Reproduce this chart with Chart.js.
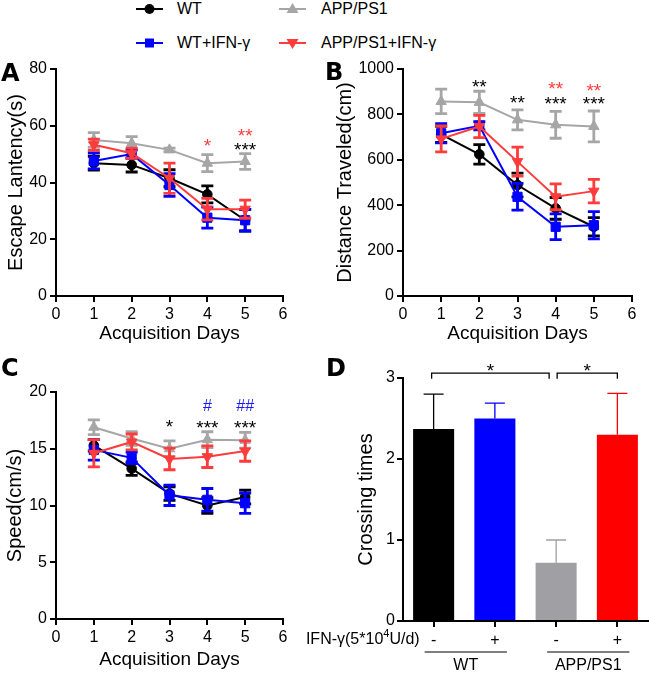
<!DOCTYPE html>
<html><head><meta charset="utf-8">
<script src="https://cdn.jsdelivr.net/npm/chart.js@4.4.1/dist/chart.umd.min.js"></script>
<style>
html,body{margin:0;padding:0;background:#fff;}
body{width:649px;height:673px;position:relative;overflow:hidden;font-family:"Liberation Sans",Arial,sans-serif;}
canvas{position:absolute;}
.lg{position:absolute;height:16px;font-size:16px;line-height:16px;color:#000;white-space:nowrap;}
.lg svg{position:absolute;left:0;top:0;}
.lg span{position:absolute;top:0;}
.letter{position:absolute;font-family:"DejaVu Sans",sans-serif;font-weight:bold;font-size:24px;line-height:24px;color:#000;}
</style></head>
<body>
<div class="lg" style="left:136px;top:1px"><svg width="27" height="16"><line x1="0" y1="8" x2="27" y2="8" stroke="#000" stroke-width="2"/><circle cx="13.5" cy="8" r="5" fill="#000"/></svg><span style="left:41px">WT</span></div>
<div class="lg" style="left:279px;top:1px"><svg width="27" height="16"><line x1="0" y1="8" x2="27" y2="8" stroke="#a6a6a6" stroke-width="2"/><polygon points="13.5,2 19.5,12 7.5,12" fill="#a6a6a6"/></svg><span style="left:42px">APP/PS1</span></div>
<div class="lg" style="left:136px;top:35px"><svg width="27" height="16"><line x1="0" y1="8" x2="27" y2="8" stroke="#0000ff" stroke-width="2"/><rect x="9" y="3.5" width="9" height="9" fill="#0000ff"/></svg><span style="left:41px">WT+IFN-γ</span></div>
<div class="lg" style="left:279px;top:35px"><svg width="27" height="16"><line x1="0" y1="8" x2="27" y2="8" stroke="#ff3b3b" stroke-width="2"/><polygon points="7.5,4 19.5,4 13.5,14" fill="#ff3b3b"/></svg><span style="left:42px">APP/PS1+IFN-γ</span></div>

<canvas id="cA" width="320" height="300" style="left:0;top:55px"></canvas>
<canvas id="cB" width="329" height="300" style="left:320px;top:55px"></canvas>
<canvas id="cC" width="320" height="303" style="left:0;top:370px"></canvas>
<canvas id="cD" width="379" height="333" style="left:270px;top:340px"></canvas>

<div class="letter" style="left:1px;top:61px">A</div>
<div class="letter" style="left:325px;top:60px">B</div>
<div class="letter" style="left:1px;top:356px">C</div>
<div class="letter" style="left:326px;top:356px">D</div>

<script>
// ---------- data ----------
const days = [1, 2, 3, 4, 5];
const dayTicks = [0, 1, 2, 3, 4, 5, 6];

// A: Escape latency (s)
const latWT      = [46.8, 46.2, 41.5, 35.8, 26.7];
const latWTErr   = [2.4, 2.5, 3.0, 3.0, 3.8];
const latAPP     = [55.0, 53.8, 51.5, 46.8, 47.4];
const latAPPErr  = [2.6, 2.4, 0.6, 3.0, 2.8];
const latWTI     = [47.6, 50.0, 39.1, 27.6, 26.7];
const latWTIErr  = [2.8, 1.5, 4.0, 3.7, 3.8];
const latAPPI    = [53.3, 50.3, 41.5, 30.6, 30.6];
const latAPPIErr = [2.0, 1.8, 5.3, 3.8, 3.2];
const sigA = [[4, 50.7, '*', '#ff3b3b'], [5, 54.3, '**', '#ff3b3b'], [5, 49.3, '***', '#000']];

// B: Distance traveled (cm)
const distWT      = [712, 624, 489, 386, 305];
const distWTErr   = [35, 43, 52, 48, 40];
const distAPP     = [857, 853, 776, 754, 747];
const distAPPErr  = [54, 49, 44, 59, 68];
const distWTI     = [717, 750, 437, 305, 312];
const distWTIErr  = [42, 18, 59, 57, 60];
const distAPPI    = [692, 747, 592, 437, 462];
const distAPPIErr = [57, 49, 64, 57, 52];
const sigB = [[2, 894, '**', '#000'], [3, 824, '**', '#000'], [4, 885, '**', '#ff3b3b'], [4, 819, '***', '#000'], [5, 877, '**', '#ff3b3b'], [5, 819, '***', '#000']];

// C: Speed (cm/s)
const spdWT      = [15.3, 13.25, 11.05, 10.0, 10.75];
const spdWTErr   = [0.5, 0.6, 0.6, 0.7, 0.6];
const spdAPP     = [16.9, 15.9, 15.0, 15.8, 15.75];
const spdAPPErr  = [0.65, 0.6, 0.7, 0.7, 0.7];
const spdWTI     = [14.9, 14.2, 10.9, 10.5, 10.2];
const spdWTIErr  = [0.9, 0.5, 0.9, 1.0, 0.9];
const spdAPPI    = [14.6, 15.6, 14.1, 14.3, 14.8];
const spdAPPIErr = [1.2, 0.7, 0.95, 0.95, 0.9];
const sigC = [[3, 16.4, '*', '#000'], [4, 16.3, '***', '#000'], [5, 16.3, '***', '#000'], [4, 18.3, '#', '#1a1aff'], [5, 18.3, '##', '#1a1aff']];

// D: Crossing times
const groupsD   = ['WT', 'WT', 'APP/PS1', 'APP/PS1'];
const ifnLabels = ['-', '+', '-', '+'];
const crossVals = [2.37, 2.50, 0.72, 2.30];
const crossErr  = [0.43, 0.19, 0.28, 0.51];
const bracketsD = [[0, 2, '*'], [2, 3, '*']];
const groupNames = [['WT', 0, 1], ['APP/PS1', 2, 3]];

// ---------- style ----------
const F = "'Liberation Sans', Arial, sans-serif";
const C_WT = '#000000', C_APP = '#a6a6a6', C_WTI = '#0000ff', C_APPI = '#ff3b3b';
const barColors = ['#000000', '#0000ff', '#a0a0a4', '#ff0000'];
Chart.defaults.font.family = F;
Chart.defaults.color = '#000';

const errorBarPlugin = {
  id: 'errbars',
  beforeDatasetDraw(chart, args) {
    const ds = chart.data.datasets[args.index];
    if (!ds.errors) return;
    const ctx = chart.ctx, yS = chart.scales.y;
    ctx.save();
    ctx.lineWidth = ds.errWidth || 2.8;
    args.meta.data.forEach((el, i) => {
      const raw = ds.data[i];
      const v = (typeof raw === 'object') ? raw.y : raw;
      const e = ds.errors[i];
      const x = el.x;
      const yTop = yS.getPixelForValue(v + e);
      const yBot = ds.errUpOnly ? yS.getPixelForValue(v) : yS.getPixelForValue(v - e);
      const cw = ds.capHalf || 6;
      ctx.strokeStyle = ds.errColors ? ds.errColors[i] : ds.borderColor;
      ctx.beginPath();
      ctx.moveTo(x, yTop); ctx.lineTo(x, yBot);
      ctx.moveTo(x - cw, yTop); ctx.lineTo(x + cw, yTop);
      if (!ds.errUpOnly) { ctx.moveTo(x - cw, yBot); ctx.lineTo(x + cw, yBot); }
      ctx.stroke();
    });
    ctx.restore();
  }
};

const sigPlugin = {
  id: 'sig',
  afterDraw(chart, args, opts) {
    const marks = opts.marks || [];
    const ctx = chart.ctx, xS = chart.scales.x, yS = chart.scales.y;
    ctx.save();
    ctx.textAlign = 'center';
    ctx.textBaseline = 'alphabetic';
    marks.forEach(m => {
      ctx.fillStyle = m[3];
      ctx.font = (m[2].indexOf('#') >= 0 ? '16px ' : '19px ') + F;
      ctx.fillText(m[2], xS.getPixelForValue(m[0]), yS.getPixelForValue(m[1]));
    });
    ctx.restore();
  }
};

function lineDs(label, vals, errs, color, style, rot, radius, order) {
  return {
    label, data: days.map((d, i) => ({x: d, y: vals[i]})), errors: errs,
    borderColor: color, backgroundColor: color, pointBackgroundColor: color, pointBorderColor: color,
    borderWidth: 2, pointStyle: style, pointRotation: rot, pointRadius: radius, pointBorderWidth: 1,
    tension: 0, order
  };
}

function axisCommon() {
  return {
    grid: {drawOnChartArea: false, drawTicks: true, tickLength: 6, lineWidth: 2, tickColor: '#000', color: '#000'},
    border: {color: '#000', width: 2}
  };
}

function lineChart(id, sets, yMax, yStep, yTitle, yWidth, yTitlePad, xH, pad, marks) {
  const c = axisCommon();
  return new Chart(document.getElementById(id), {
    type: 'line',
    data: {datasets: sets},
    options: {
      responsive: false, animation: false, events: [],
      layout: {padding: pad},
      plugins: {legend: {display: false}, tooltip: {enabled: false}, sig: {marks}},
      scales: {
        x: {type: 'linear', min: 0, max: 6, afterBuildTicks: s => { s.ticks = dayTicks.map(v => ({value: v})); },
            ticks: {font: {size: 16}, padding: 3, color: '#000', maxRotation: 0},
            grid: c.grid, border: c.border,
            title: {display: true, text: 'Acquisition Days', font: {size: 19}, color: '#000', padding: {top: 0, bottom: 0}},
            afterFit: s => { s.height = xH; }},
        y: {min: 0, max: yMax,
            ticks: {stepSize: yStep, font: {size: 16}, padding: 3, color: '#000', callback: v => String(v)},
            grid: c.grid, border: c.border,
            title: {display: true, text: yTitle, font: {size: 20}, color: '#000', padding: {top: yTitlePad, bottom: 0}},
            afterFit: s => { s.width = yWidth; }}
      }
    },
    plugins: [errorBarPlugin, sigPlugin]
  });
}

function fourSets(wt, wte, app, appe, wti, wtie, appi, appie) {
  return [
    lineDs('WT', wt, wte, C_WT, 'circle', 0, 4.8, 3),
    lineDs('APP/PS1', app, appe, C_APP, 'triangle', 0, 6, 2),
    lineDs('WT+IFN-γ', wti, wtie, C_WTI, 'rect', 0, 6.5, 1),
    lineDs('APP/PS1+IFN-γ', appi, appie, C_APPI, 'triangle', 180, 6, 0)
  ];
}

lineChart('cA', fourSets(latWT, latWTErr, latAPP, latAPPErr, latWTI, latWTIErr, latAPPI, latAPPIErr),
  80, 20, 'Escape Lantency(s)', 56, 4, 49, {top: 14, right: 37, left: 0, bottom: 10}, sigA);
lineChart('cB', fourSets(distWT, distWTErr, distAPP, distAPPErr, distWTI, distWTIErr, distAPPI, distAPPIErr),
  1000, 200, 'Distance Traveled(cm)', 83, 13, 49, {top: 14, right: 17, left: 0, bottom: 10}, sigB);
lineChart('cC', fourSets(spdWT, spdWTErr, spdAPP, spdAPPErr, spdWTI, spdWTIErr, spdAPPI, spdAPPIErr),
  20, 5, 'Speed(cm/s)', 56, 3, 52, {top: 22, right: 37, left: 0, bottom: 2}, sigC);

const panelDPlugin = {
  id: 'panelD',
  afterDraw(chart) {
    const ctx = chart.ctx, x = chart.scales.x, y = chart.scales.y, area = chart.chartArea;
    const px = i => x.getPixelForValue(i);
    ctx.save();
    // significance brackets
    ctx.strokeStyle = '#000'; ctx.lineWidth = 1.3; ctx.fillStyle = '#000';
    const yT = y.getPixelForValue(3.06), yF = y.getPixelForValue(2.99);
    bracketsD.forEach((b, k) => {
      const x1 = px(b[0]) + (k === 0 ? -2 : 1);
      const x2 = px(b[1]) + (k === 0 ? -7 : 0);
      ctx.beginPath();
      ctx.moveTo(x1, yF); ctx.lineTo(x1, yT); ctx.lineTo(x2, yT); ctx.lineTo(x2, yF);
      ctx.stroke();
      ctx.font = '19px ' + F; ctx.textAlign = 'center'; ctx.textBaseline = 'alphabetic';
      ctx.fillText(b[2], (x1 + x2) / 2, y.getPixelForValue(3.01));
    });
    // row label IFN-γ(5*10^4U/d)
    const ly = area.bottom + 19;
    let xr = px(0) - 14;
    ctx.textAlign = 'right'; ctx.textBaseline = 'middle';
    ctx.font = '16px ' + F;
    ctx.fillText('U/d)', xr, ly);
    xr -= ctx.measureText('U/d)').width;
    ctx.font = '11px ' + F;
    ctx.fillText('4', xr, ly - 6);
    xr -= ctx.measureText('4').width;
    ctx.font = '16px ' + F;
    ctx.fillText('IFN-γ(5*10', xr, ly);
    // group lines and names
    ctx.lineWidth = 1.2;
    ctx.textAlign = 'center'; ctx.textBaseline = 'alphabetic';
    groupNames.forEach(g => {
      const a = px(g[1]) - 9, b = px(g[2]) + 12;
      ctx.beginPath(); ctx.moveTo(a, area.bottom + 31); ctx.lineTo(b, area.bottom + 31); ctx.stroke();
      ctx.fillText(g[0], (a + b) / 2, area.bottom + 49);
    });
    ctx.restore();
  }
};

(function () {
  const c = axisCommon();
  new Chart(document.getElementById('cD'), {
    type: 'bar',
    data: {labels: ifnLabels, datasets: [{
      label: 'Crossing times', data: crossVals, errors: crossErr, errUpOnly: true,
      errColors: barColors, errWidth: 1.3, capHalf: 10,
      backgroundColor: barColors, borderWidth: 0,
      categoryPercentage: 1, barPercentage: 0.67
    }]},
    options: {
      responsive: false, animation: false, events: [],
      layout: {padding: {top: 38, right: 1, left: 0, bottom: 0}},
      plugins: {legend: {display: false}, tooltip: {enabled: false}},
      scales: {
        x: {type: 'category', offset: true,
            ticks: {font: {size: 16}, padding: 3.5, color: '#000'},
            grid: Object.assign({}, c.grid, {offset: false}), border: c.border,
            afterFit: s => { s.height = 52; }},
        y: {min: 0, max: 3, ticks: {stepSize: 1, font: {size: 16}, padding: 2, color: '#000'},
            grid: c.grid, border: c.border,
            title: {display: true, text: 'Crossing times', font: {size: 20}, color: '#000', padding: {top: 84, bottom: 0}},
            afterFit: s => { s.width = 133; }}
      }
    },
    plugins: [errorBarPlugin, panelDPlugin]
  });
})();
</script>
</body></html>
